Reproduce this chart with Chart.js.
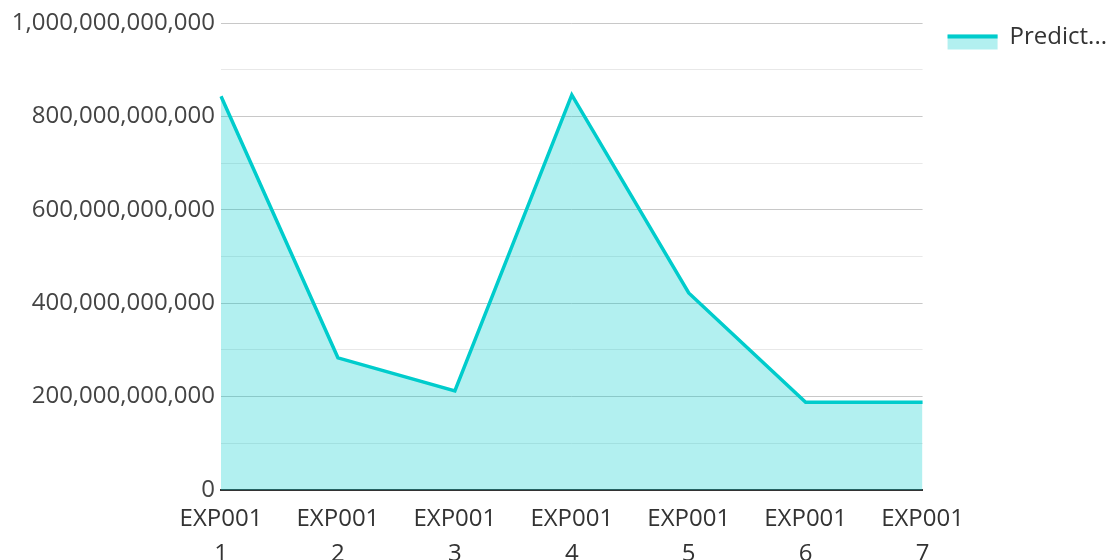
<!DOCTYPE html>
<html>
<head>
<meta charset="utf-8">
<script src="https://cdn.jsdelivr.net/npm/chart.js@4/dist/chart.umd.min.js"></script>
<style>
  html, body { margin: 0; padding: 0; background: #fff; }
  #wrap { width: 1110px; height: 560px; position: relative; }
</style>
</head>
<body>
<div id="wrap"><canvas id="chart"></canvas></div>
<script>
const categories = [
  ["EXP001", "1"], ["EXP001", "2"], ["EXP001", "3"], ["EXP001", "4"],
  ["EXP001", "5"], ["EXP001", "6"], ["EXP001", "7"]
];
const predicted = [
  843000000000, 283000000000, 212000000000, 846000000000,
  422000000000, 188000000000, 188000000000
];
const seriesLabel = "Predict...";
const yMax = 1000000000000;
const yStep = 100000000000;

const LINE = "rgb(0,204,204)";
const FILL = "rgba(0,204,204,0.3)";
const FONT = "'Open Sans'";

// Legend swatch: pale area fill with a thick line along its top edge,
// sitting slightly below the label's centre line
const legendSwatch = {
  id: "legendSwatch",
  afterDraw(chart) {
    const lg = chart.legend;
    if (!lg || !lg.legendHitBoxes) return;
    const ctx = chart.ctx;
    const boxW = lg.options.labels.boxWidth;
    const boxH = lg.options.labels.boxHeight;
    lg.legendHitBoxes.forEach(hb => {
      const top = hb.top + (hb.height - boxH) / 2 + 5;
      ctx.save();
      ctx.fillStyle = FILL;
      ctx.fillRect(hb.left, top, boxW, boxH);
      ctx.strokeStyle = LINE;
      ctx.lineWidth = 4;
      ctx.beginPath();
      ctx.moveTo(hb.left, top + 2);
      ctx.lineTo(hb.left + boxW, top + 2);
      ctx.stroke();
      ctx.restore();
    });
  }
};

new Chart(document.getElementById("chart"), {
  type: "line",
  data: {
    labels: categories,
    datasets: [{
      label: seriesLabel,
      data: predicted,
      borderColor: LINE,
      backgroundColor: FILL,
      borderWidth: 3.5,
      fill: "origin",
      tension: 0,
      pointRadius: 0,
      pointHoverRadius: 0
    }]
  },
  options: {
    responsive: true,
    maintainAspectRatio: false,
    animation: false,
    layout: { padding: { top: 23, left: 0, right: -7, bottom: 0 } },
    plugins: {
      tooltip: { enabled: false },
      legend: {
        position: "right",
        align: "start",
        labels: {
          boxWidth: 50,
          boxHeight: 15,
          padding: 2,
          color: "#333",
          font: { family: FONT, size: 24 },
          generateLabels(chart) {
            return chart.data.datasets.map((ds, i) => ({
              text: ds.label,
              fillStyle: "rgba(0,0,0,0)",
              strokeStyle: "rgba(0,0,0,0)",
              lineWidth: 0,
              datasetIndex: i,
              fontColor: "#333"
            }));
          }
        }
      }
    },
    scales: {
      x: {
        offset: false,
        grid: { display: false, drawTicks: false },
        border: { display: true, color: "#333", width: 2 },
        afterFit: s => { s.height = 70; },
        ticks: {
          color: "#333",
          font: { family: FONT, size: 24, lineHeight: 1.45 },
          padding: 12,
          maxRotation: 0,
          autoSkip: false
        }
      },
      y: {
        min: 0,
        max: yMax,
        border: { display: false },
        afterFit: s => { s.width = 221; },
        grid: {
          drawTicks: false,
          color: ctx => (ctx.tick && Math.round(ctx.tick.value / yStep) % 2 === 0) ? "#c8c8c8" : "#e8e8e8",
          lineWidth: 1
        },
        ticks: {
          stepSize: yStep,
          autoSkip: false,
          color: "#444",
          padding: 6,
          font: { family: FONT, size: 24 },
          callback: v => (Math.round(v / yStep) % 2 === 0) ? Number(v).toLocaleString("en-US") : ""
        }
      },
      // empty spacer between the plot and the legend
      gap: {
        type: "linear",
        position: "right",
        display: true,
        grid: { display: false, drawTicks: false },
        border: { display: false },
        ticks: { display: false },
        afterFit: s => { s.width = 23; }
      }
    }
  },
  plugins: [legendSwatch]
});
</script>
</body>
</html>
